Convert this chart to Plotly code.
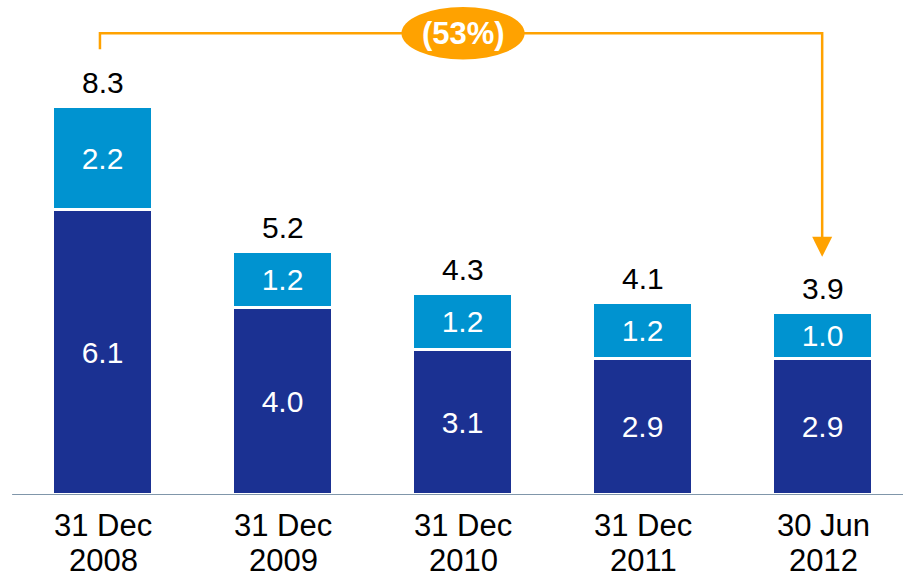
import plotly.graph_objects as go

cat_line1 = ["31 Dec", "31 Dec", "31 Dec", "31 Dec", "30 Jun"]
cat_line2 = ["2008", "2009", "2010", "2011", "2012"]
bottom_vals = [6.1, 4.0, 3.1, 2.9, 2.9]
top_vals = [2.2, 1.2, 1.2, 1.2, 1.0]
totals = [8.3, 5.2, 4.3, 4.1, 3.9]
change_label = "(53%)"

DARK = "#1b3192"
LIGHT = "#0093d0"
ORANGE = "#ffa200"
FONT = "Liberation Sans, Arial, sans-serif"

x = list(range(len(cat_line1)))

fig = go.Figure()
fig.add_trace(go.Bar(
    x=x, y=bottom_vals, marker=dict(color=DARK, line=dict(color="white", width=3)),
    width=0.56, text=[f"{v:.1f}" for v in bottom_vals], textposition="inside",
    insidetextanchor="middle", textfont=dict(color="white", size=30, family=FONT),
    hoverinfo="skip",
))
fig.add_trace(go.Bar(
    x=x, y=top_vals, marker=dict(color=LIGHT, line=dict(color="white", width=3)),
    width=0.56, text=[f"{v:.1f}" for v in top_vals], textposition="inside",
    insidetextanchor="middle", textfont=dict(color="white", size=30, family=FONT),
    hoverinfo="skip",
))

for xi, t in zip(x, totals):
    fig.add_annotation(x=xi, y=t, text=f"{t:.1f}", showarrow=False, yanchor="bottom",
                       yshift=6, font=dict(size=30, color="black", family=FONT))

for xi, l1, l2 in zip(x, cat_line1, cat_line2):
    fig.add_annotation(x=xi, y=0, yref="paper", text=l1, showarrow=False, yanchor="middle",
                       yshift=-30, font=dict(size=31, color="black", family=FONT))
    fig.add_annotation(x=xi, y=0, yref="paper", text=l2, showarrow=False, yanchor="middle",
                       yshift=-65, font=dict(size=31, color="black", family=FONT))

# bracket arrow from first to last
bracket_y = max(totals) + 1.57
left_end = totals[0] + 1.23
tip = totals[-1] + 1.19
first, last = x[0], x[-1]
fig.add_shape(type="path",
              path=f"M {first - 0.017} {left_end} L {first - 0.017} {bracket_y} L {last - 0.005} {bracket_y} L {last - 0.005} {tip + 0.3}",
              line=dict(color=ORANGE, width=2.5))
fig.add_annotation(x=last - 0.005, y=tip, ax=last - 0.005, ay=tip + 0.35, xref="x", yref="y",
                   axref="x", ayref="y", text="", showarrow=True, arrowhead=2,
                   arrowsize=1.6, arrowwidth=2.5, arrowcolor=ORANGE)
mid = (first + last) / 2
fig.add_shape(type="circle", x0=mid - 0.342, x1=mid + 0.342, y0=bracket_y - 0.56, y1=bracket_y + 0.56,
              fillcolor=ORANGE, line=dict(color=ORANGE, width=0))
fig.add_annotation(x=mid, y=bracket_y, text=f"<b>{change_label}</b>", showarrow=False,
                   font=dict(size=31, color="white", family=FONT))

fig.update_layout(
    barmode="stack", width=903, height=577, showlegend=False,
    margin=dict(l=13, r=0, t=0, b=82),
    plot_bgcolor="white", paper_bgcolor="white",
    bargap=0,
    xaxis=dict(range=[-0.5, 4.444], showgrid=False, showticklabels=False,
               zeroline=False, showline=False, ticks=""),
    yaxis=dict(range=[0, 10.58], visible=False, showgrid=False, zeroline=False),
)
fig.add_shape(type="line", xref="paper", yref="y", x0=-0.001, x1=1, y0=0, y1=0,
              line=dict(color="#8096aa", width=2))

fig.write_html("out.html", config={"displayModeBar": False},
               post_script="document.body.style.margin='0';")
